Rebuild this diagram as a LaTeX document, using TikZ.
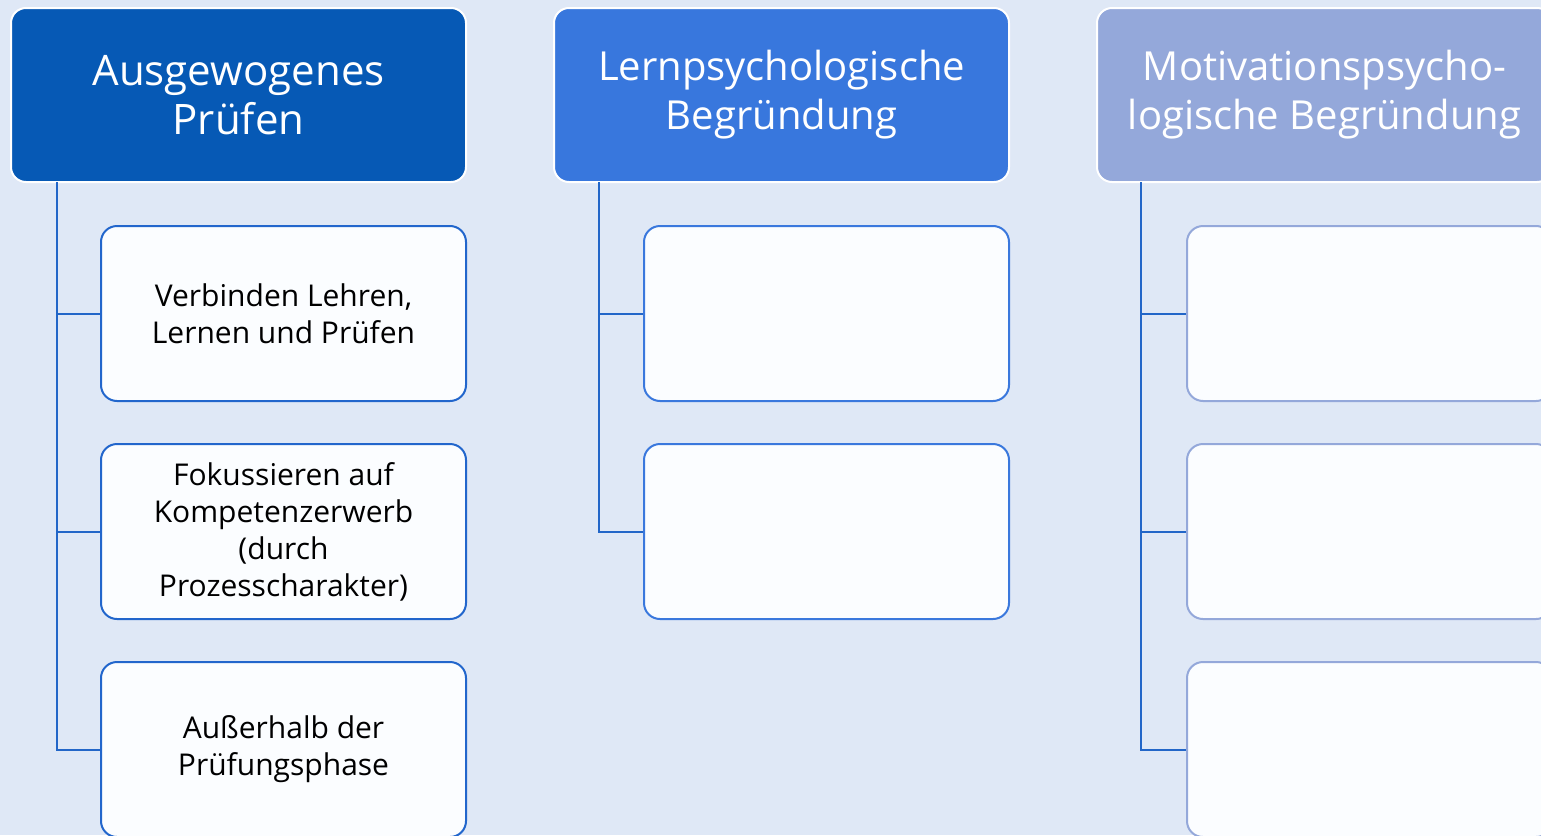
\documentclass[tikz,border=0pt]{standalone}
\usepackage{fontspec}
\setmainfont{Open Sans}
\definecolor{bg}{HTML}{DFE8F6}
\definecolor{hA}{HTML}{0659B5}
\definecolor{hB}{HTML}{3877DD}
\definecolor{hC}{HTML}{94A8DA}
\definecolor{conn}{HTML}{2266C8}
\definecolor{bA}{HTML}{2266CC}
\definecolor{bB}{HTML}{3A78DD}
\definecolor{bC}{HTML}{94A8DA}
\definecolor{boxfill}{HTML}{FBFDFF}
\tikzset{
  header/.style={rectangle, rounded corners=15pt, minimum width=455pt, minimum height=174pt,
    draw=white, line width=2pt, text=white, align=center,
    font=\fontsize{40}{49}\selectfont},
  child/.style={rectangle, rounded corners=16pt, minimum width=365pt, minimum height=175pt,
    fill=boxfill, line width=2pt, align=center, text=black,
    font=\fontsize{30}{37}\selectfont},
  conline/.style={draw=conn, line width=2pt}
}
\begin{document}
\begin{tikzpicture}[x=1pt,y=1pt]
\useasboundingbox (0,0) rectangle (1541,-835);
\clip (0,0) rectangle (1541,-835);
\fill[bg] (0,0) rectangle (1541,-835);

% headers
\node[header, fill=hA, font=\fontsize{42}{49}\selectfont] (h1) at (238.5,-95) {Ausgewogenes\\Prüfen};
\node[header, fill=hB] (h2) at (781.5,-95) {\raisebox{-2.5pt}{\parbox{440pt}{\centering Lernpsychologische\\Begründung}}};
\node[header, fill=hC] (h3) at (1324.5,-95) {\raisebox{-2.5pt}{\parbox{440pt}{\centering Motivationspsycho-\\logische Begründung}}};

% trunk coordinates
\coordinate (t1) at (57,-182);
\coordinate (t2) at (599,-182);
\coordinate (t3) at (1141,-182);

% connectors (drawn first, under boxes)
\draw[conline] (t1) |- (283.5,-749.5);
\draw[conline] (t1 |- 0,-313.5) -- (283.5,-313.5);
\draw[conline] (t1 |- 0,-531.5) -- (283.5,-531.5);
\draw[conline] (t2) |- (826.5,-531.5);
\draw[conline] (t2 |- 0,-313.5) -- (826.5,-313.5);
\draw[conline] (t3) |- (1369.5,-749.5);
\draw[conline] (t3 |- 0,-313.5) -- (1369.5,-313.5);
\draw[conline] (t3 |- 0,-531.5) -- (1369.5,-531.5);

% children column 1
\node[child, draw=bA] (c11) at (283.5,-313.5) {Verbinden Lehren,\\Lernen und Prüfen};
\node[child, draw=bA] (c12) at (283.5,-531.5) {Fokussieren auf\\Kompetenzerwerb\\(durch\\Prozesscharakter)};
\node[child, draw=bA] (c13) at (283.5,-749.5) {Außerhalb der\\Prüfungsphase};

% children column 2
\node[child, draw=bB] (c21) at (826.5,-313.5) {};
\node[child, draw=bB] (c22) at (826.5,-531.5) {};

% children column 3
\node[child, draw=bC] (c31) at (1369.5,-313.5) {};
\node[child, draw=bC] (c32) at (1369.5,-531.5) {};
\node[child, draw=bC] (c33) at (1369.5,-749.5) {};
\end{tikzpicture}
\end{document}
